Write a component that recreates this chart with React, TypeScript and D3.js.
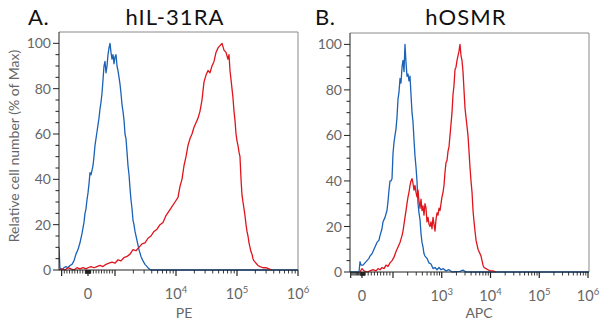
import React from "react";
import * as d3 from "d3";

// ---------- data ----------
const panelLetters = ["A.", "B."];
const titles = ["hIL-31RA", "hOSMR"];
const xAxisLabels = ["PE", "APC"];
const yAxisLabel = "Relative cell number (% of Max)";
const yTicks = [0, 20, 40, 60, 80, 100];

// logicle-like display: linear below threshold, log above
const linThreshold = [1000, 100];
const majorTicksA = [-1000, 0, 1000, 1e4, 1e5, 1e6];
const labeledTicksA = [0, 1e4, 1e5, 1e6];
const majorTicksB = [-100, 0, 100, 1e3, 1e4, 1e5, 1e6];
const labeledTicksB = [0, 1e3, 1e4, 1e5, 1e6];

// histograms: [display unit, % of max]
const blueA: [number, number][] = [
  [-1.1, 10], [-1.065, 1], [-0.989, 0], [-0.913, 1], [-0.837, 1.5], [-0.76, 1], [-0.684, 2], [-0.608, 2.5],
  [-0.532, 4], [-0.456, 7], [-0.38, 9], [-0.304, 12], [-0.228, 16], [-0.152, 21], [-0.114, 25], [-0.076, 27],
  [-0.038, 31], [0, 34], [0.037, 38], [0.074, 43], [0.111, 42], [0.148, 44], [0.185, 46], [0.222, 50],
  [0.259, 55], [0.296, 58], [0.333, 61], [0.37, 64], [0.407, 67], [0.444, 71], [0.481, 74], [0.519, 78],
  [0.556, 84], [0.593, 90], [0.63, 92], [0.667, 87], [0.704, 90], [0.741, 95], [0.778, 98], [0.815, 100],
  [0.852, 96], [0.889, 93], [0.926, 95], [0.963, 91], [1.0, 94], [1.016, 95], [1.033, 90], [1.049, 88],
  [1.066, 85], [1.082, 82], [1.098, 78], [1.115, 73], [1.131, 70], [1.148, 66], [1.164, 60], [1.18, 58],
  [1.197, 52], [1.213, 46], [1.23, 42], [1.246, 36], [1.262, 31], [1.279, 27], [1.295, 22], [1.311, 20],
  [1.328, 17], [1.361, 13], [1.393, 9], [1.426, 6], [1.459, 4], [1.492, 2.5], [1.525, 1.5], [1.557, 0.5],
  [1.59, 0], [4.0, 0],
];
const redA: [number, number][] = [
  [-1.103, 0], [-0.989, 0.5], [-0.875, 0], [-0.76, 1], [-0.646, 0.5], [-0.532, 0], [-0.418, 1], [-0.304, 0.5],
  [-0.19, 1], [-0.076, 0.5], [0, 1], [0.111, 1.5], [0.222, 1], [0.333, 1.5], [0.444, 2], [0.556, 1.5],
  [0.667, 2.5], [0.778, 3], [0.889, 3.5], [1.0, 3], [1.049, 4.5], [1.098, 4], [1.148, 5.5], [1.197, 6],
  [1.246, 7], [1.295, 9], [1.344, 8.5], [1.393, 10], [1.443, 11.5], [1.492, 12], [1.541, 14], [1.59, 15],
  [1.639, 17], [1.689, 18], [1.738, 20], [1.787, 21], [1.836, 24], [1.885, 26], [1.934, 28], [1.984, 30],
  [2.033, 32], [2.066, 37], [2.098, 40], [2.131, 46], [2.164, 50], [2.197, 55], [2.23, 58], [2.262, 60],
  [2.295, 63], [2.328, 65], [2.361, 67], [2.393, 70], [2.426, 75], [2.459, 83], [2.492, 86], [2.525, 88],
  [2.557, 87], [2.59, 90], [2.623, 92], [2.656, 96], [2.689, 98], [2.721, 99], [2.754, 100], [2.787, 97],
  [2.82, 96], [2.852, 93], [2.869, 95], [2.885, 88], [2.902, 84], [2.918, 80], [2.934, 76], [2.951, 70],
  [2.967, 66], [2.984, 60], [3.0, 57], [3.016, 55], [3.033, 52], [3.049, 50], [3.066, 40], [3.082, 33],
  [3.098, 30], [3.115, 27], [3.131, 24], [3.148, 20], [3.164, 17], [3.18, 15], [3.197, 12], [3.213, 10],
  [3.23, 8], [3.246, 7], [3.262, 5], [3.279, 4], [3.311, 3], [3.344, 2], [3.377, 1.5], [3.426, 1],
  [3.475, 1], [3.525, 0.5], [3.574, 0],
];
const blueB: [number, number][] = [
  [-1.062, 0], [-0.265, 0], [-0.177, 4.5], [-0.088, 3], [0.032, 3], [0.097, 4], [0.161, 5], [0.226, 6],
  [0.258, 7], [0.323, 8], [0.387, 10], [0.419, 11], [0.484, 13], [0.548, 14], [0.581, 16], [0.645, 19],
  [0.677, 22], [0.742, 24], [0.806, 27], [0.839, 31], [0.871, 36], [0.903, 40], [0.935, 40], [0.968, 41],
  [1.0, 52], [1.021, 57], [1.041, 60], [1.062, 63], [1.082, 68], [1.103, 76], [1.123, 79], [1.144, 85],
  [1.164, 83], [1.185, 90], [1.205, 93], [1.226, 88], [1.246, 100], [1.267, 92], [1.287, 86], [1.308, 87],
  [1.328, 84], [1.349, 86], [1.369, 78], [1.39, 70], [1.41, 66], [1.431, 58], [1.451, 51], [1.472, 46],
  [1.492, 40], [1.513, 30], [1.533, 26], [1.554, 23], [1.574, 17], [1.595, 13], [1.615, 11], [1.636, 8],
  [1.656, 7], [1.697, 6], [1.738, 4], [1.779, 3.5], [1.821, 1.5], [1.862, 2], [1.903, 1], [1.944, 2],
  [1.985, 1], [2.026, 1.5], [2.087, 0.5], [2.149, 1], [2.21, 0], [2.374, 0.3], [2.436, 0.8], [2.497, 0],
  [5.02, 0],
];
const redB: [number, number][] = [
  [-0.177, 0], [0, 1.5], [0.065, 0.5], [0.161, 0], [0.258, 0.5], [0.355, 1], [0.452, 0.5], [0.516, 1.5],
  [0.581, 1], [0.645, 2], [0.71, 1.5], [0.774, 3], [0.839, 2.5], [0.903, 4], [0.968, 5], [1.021, 6.5],
  [1.062, 9], [1.103, 11], [1.144, 13], [1.185, 16], [1.205, 18], [1.226, 21], [1.246, 24], [1.267, 27],
  [1.287, 30], [1.308, 33], [1.328, 35], [1.349, 38], [1.369, 40], [1.39, 41], [1.41, 39], [1.431, 36],
  [1.451, 38], [1.472, 35], [1.492, 33], [1.513, 36], [1.533, 31], [1.554, 28], [1.574, 32], [1.595, 27],
  [1.615, 29], [1.636, 25], [1.656, 30], [1.677, 28], [1.697, 22], [1.718, 24], [1.738, 21], [1.759, 20],
  [1.779, 22], [1.8, 19], [1.821, 24], [1.841, 21], [1.862, 18], [1.882, 23], [1.903, 26], [1.923, 25],
  [1.944, 28], [1.964, 27], [1.985, 30], [2.005, 33], [2.026, 35], [2.046, 38], [2.067, 44], [2.087, 48],
  [2.108, 49], [2.128, 53], [2.149, 55], [2.169, 60], [2.19, 65], [2.21, 70], [2.231, 78], [2.251, 82],
  [2.272, 89], [2.292, 90], [2.313, 93], [2.333, 95], [2.354, 97], [2.374, 100], [2.395, 95], [2.415, 93],
  [2.436, 88], [2.456, 80], [2.477, 72], [2.497, 68], [2.518, 64], [2.538, 60], [2.559, 53], [2.579, 46],
  [2.6, 40], [2.621, 35], [2.641, 27], [2.662, 22], [2.682, 18], [2.703, 14], [2.723, 12], [2.744, 10],
  [2.764, 9], [2.785, 8], [2.805, 7], [2.826, 5], [2.846, 3], [2.867, 2], [2.908, 1.5], [2.949, 1],
  [2.99, 0.5], [3.051, 0.5], [3.113, 0],
];

// ---------- layout ----------
const W = 600;
const H = 326;
const BLUE = "#1b62b7";
const RED = "#e0141c";
const GRAY_TEXT = "#666";
const FONT = "Lato, 'Open Sans', sans-serif";

const toU = (v: number, L: number) =>
  Math.abs(v) <= L ? v / L : Math.sign(v) * (Math.log10(Math.abs(v) / L) + 1);

function minorTicks(L: number, maxExp: number) {
  const out: number[] = [];
  for (let k = 1; k <= 9; k++) {
    out.push(k * L / 10, -k * L / 10, k * L / 100, -k * L / 100);
  }
  for (let e = Math.log10(L); e < maxExp; e++) {
    for (let k = 2; k <= 9; k++) out.push(k * Math.pow(10, e));
  }
  return out;
}

type PanelProps = {
  idx: number;
  left: number; right: number; top: number; bottom: number;
  uDomain: number[]; uRange: number[];
  majors: number[]; labeled: number[];
  blue: [number, number][]; red: [number, number][];
  titleX: number; letterX: number; xLabelX: number;
};

function Panel(p: PanelProps) {
  const L = linThreshold[p.idx];
  const x = d3.scaleLinear().domain(p.uDomain).range(p.uRange).clamp(true);
  const y = d3.scaleLinear().domain([0, 105]).range([p.bottom, p.top]);
  const line = d3.line<[number, number]>().x(d => x(d[0])).y(d => y(d[1]));
  const minors = minorTicks(L, 6)
    .map(v => toU(v, L))
    .filter(u => u >= p.uDomain[0] && u <= p.uDomain[p.uDomain.length - 1]);
  const yMinor = d3.range(5, 101, 5).filter(v => v % 20 !== 0);
  const clipId = `clip${p.idx}`;
  return (
    <g>
      <defs>
        <clipPath id={clipId}>
          <rect x={p.left} y={p.top - 2} width={p.right - p.left + 1} height={p.bottom - p.top + 3} />
        </clipPath>
      </defs>
      <text x={p.letterX} y={25} fontSize={22} letterSpacing={0.5} fill="#111" fontFamily={FONT}>{panelLetters[p.idx]}</text>
      <text x={p.titleX} y={25} fontSize={22} letterSpacing={1.1} fill="#111" fontFamily={FONT} textAnchor="middle">{titles[p.idx]}</text>
      {/* frame */}
      <line x1={p.left} x2={p.right} y1={p.top} y2={p.top} stroke="#8a8a8a" strokeWidth={1} />
      <line x1={p.right} x2={p.right} y1={p.top} y2={p.bottom} stroke="#8a8a8a" strokeWidth={1} />
      {/* curves */}
      <g clipPath={`url(#${clipId})`}>
        <path d={line(p.blue) || ""} fill="none" stroke={BLUE} strokeWidth={1.3} strokeLinejoin="round" />
        <path d={line(p.red) || ""} fill="none" stroke={RED} strokeWidth={1.3} strokeLinejoin="round" />
      </g>
      {/* y axis */}
      <line x1={p.left} x2={p.left} y1={p.top} y2={p.bottom} stroke="#222" strokeWidth={1} />
      {yTicks.map(v => (
        <g key={"y" + v}>
          <line x1={p.left - 6} x2={p.left} y1={y(v)} y2={y(v)} stroke="#222" strokeWidth={1} />
          <text x={p.left - 8} y={y(v)} dy="0.36em" textAnchor="end" fontSize={14} fill={GRAY_TEXT} fontFamily={FONT}>{v}</text>
        </g>
      ))}
      {yMinor.map(v => (
        <line key={"ym" + v} x1={p.left - 3.5} x2={p.left} y1={y(v)} y2={y(v)} stroke="#222" strokeWidth={1} />
      ))}
      {/* x axis */}
      <line x1={p.left} x2={p.right} y1={p.bottom} y2={p.bottom} stroke="#222" strokeWidth={1} />
      {minors.map((u, i) => (
        <line key={"xm" + i} x1={x(u)} x2={x(u)} y1={p.bottom} y2={p.bottom + 3.5} stroke="#222" strokeWidth={0.9} />
      ))}
      {p.majors.map(v => (
        <line key={"xM" + v} x1={x(toU(v, L))} x2={x(toU(v, L))} y1={p.bottom} y2={p.bottom + 6} stroke="#222" strokeWidth={1.2} />
      ))}
      {p.labeled.map(v => (
        <text key={"xl" + v} x={x(toU(v, L))} y={p.bottom + 29} textAnchor="middle" fontSize={14.5} fill={GRAY_TEXT} fontFamily={FONT}>
          {v === 0 ? "0" : (
            <>
              <tspan>10</tspan>
              <tspan fontSize={9.5} dy={-6}>{Math.round(Math.log10(v))}</tspan>
            </>
          )}
        </text>
      ))}
      <text x={p.xLabelX} y={318} textAnchor="middle" fontSize={14} fill={GRAY_TEXT} fontFamily={FONT}>{xAxisLabels[p.idx]}</text>
    </g>
  );
}

export default function App() {
  return (
    <svg width={W} height={H} viewBox={`0 0 ${W} ${H}`}
      style={{ position: "absolute", left: 0, top: 0, background: "#fff" }}>
      <rect x={0} y={0} width={W} height={H} fill="#fff" />
      <text transform="translate(19,146) rotate(-90)" textAnchor="middle" fontSize={14} fill={GRAY_TEXT} fontFamily={FONT}>
        {yAxisLabel}
      </text>
      <Panel idx={0} left={59} right={298} top={32} bottom={270}
        uDomain={[-1.1, 0, 1, 4]} uRange={[59, 88, 115, 298]}
        majors={majorTicksA} labeled={labeledTicksA}
        blue={blueA} red={redA} titleX={175} letterX={28} xLabelX={184} />
      <Panel idx={1} left={350} right={589} top={33} bottom={272}
        uDomain={[-1.062, 0, 1, 5.02]} uRange={[350, 362, 393, 589]}
        majors={majorTicksB} labeled={labeledTicksB}
        blue={blueB} red={redB} titleX={466} letterX={315} xLabelX={479} />
    </svg>
  );
}
